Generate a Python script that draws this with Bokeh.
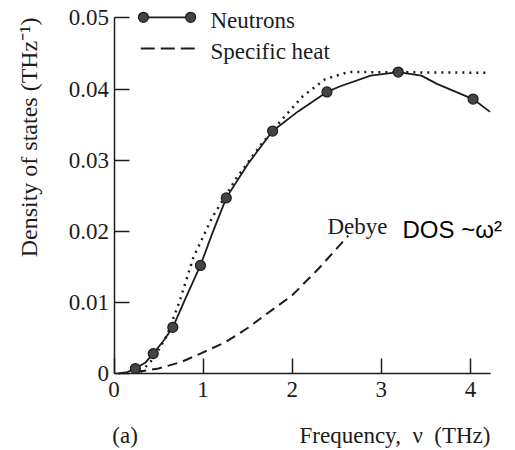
import math
from bokeh.plotting import figure
from bokeh.models import Label, FixedTicker, CustomJSTickFormatter, Range1d
from bokeh.embed import file_html
from bokeh.resources import INLINE

# ---- data ----
neutron_freq = [0.24, 0.44, 0.66, 0.97, 1.26, 1.78, 2.39, 3.19, 4.03]
neutron_dos = [0.0007, 0.0028, 0.0065, 0.0152, 0.0247, 0.0341, 0.0396, 0.0424, 0.0386]

neutron_curve_freq = [0.05, 0.15, 0.24, 0.35, 0.44, 0.55, 0.66, 0.80, 0.97, 1.10, 1.26, 1.51,
                      1.78, 2.07, 2.39, 2.54, 2.88, 3.19, 3.45, 3.63, 4.03, 4.22]
neutron_curve_dos = [0.0, 0.0002, 0.0007, 0.0015, 0.0028, 0.0045, 0.0065, 0.0105, 0.0152, 0.0196,
                     0.0247, 0.0296, 0.0341, 0.0369, 0.0396, 0.0404, 0.0419, 0.0424, 0.0419,
                     0.0407, 0.0386, 0.0368]

specheat_freq = [0.30, 0.45, 0.60, 0.74, 0.89, 1.10, 1.37, 1.65, 1.89, 2.12, 2.37, 2.63, 4.22]
specheat_dos = [0.0002, 0.0022, 0.0055, 0.0103, 0.0163, 0.0219, 0.0274, 0.0322, 0.0358, 0.0390,
                0.0414, 0.0424, 0.0423]

debye_freq = [0.25, 0.50, 0.75, 0.97, 1.25, 1.50, 1.64, 2.00, 2.30, 2.63]
debye_dos = [0.0002, 0.0007, 0.0016, 0.0028, 0.0044, 0.0064, 0.0077, 0.0110, 0.0148, 0.0194]

x_ticks = [0, 1, 2, 3, 4]
y_ticks = [0, 0.01, 0.02, 0.03, 0.04, 0.05]
x_axis_end = 4.22

legend_labels = ["Neutrons", "Specific heat"]
annot_debye = "Debye"
annot_dos = "DOS ~\u03c9\u00b2"
x_title = "Frequency,\u00a0\u00a0\u03bd\u00a0\u00a0(THz)"
y_title = "Density of states (THz\u207b\u00b9)"
panel_tag = "(a)"

# ---- style ----
INK = "#1c1c1c"
SERIF = "Liberation Serif"
SANS = "Liberation Sans"
FS = "23px"

# the frame covers the whole canvas; axes are pinned at the data origin
p = figure(width=515, height=450, output_backend="svg", toolbar_location=None,
           x_range=Range1d(-1.274, 4.506), y_range=Range1d(-0.01083, 0.05246),
           min_border_left=0, min_border_right=0, min_border_top=0, min_border_bottom=0)
p.outline_line_color = None
p.xgrid.visible = False
p.ygrid.visible = False
p.background_fill_color = "white"
p.border_fill_color = "white"

for ax in (p.xaxis[0], p.yaxis[0]):
    ax.fixed_location = 0
    ax.major_tick_in = 15
    ax.major_tick_out = 0
    ax.minor_tick_line_color = None
    ax.major_tick_line_color = INK
    ax.major_tick_line_width = 1.5
    ax.axis_line_color = INK
    ax.axis_line_width = 1.5
    ax.major_label_text_font = SERIF
    ax.major_label_text_font_size = FS
    ax.major_label_text_color = INK

p.xaxis[0].ticker = FixedTicker(ticks=x_ticks)
p.xaxis[0].bounds = (0, x_axis_end)
p.xaxis[0].major_label_standoff = 9
p.yaxis[0].ticker = FixedTicker(ticks=y_ticks)
p.yaxis[0].bounds = (0, y_ticks[-1])
p.yaxis[0].major_label_standoff = 5
p.yaxis[0].formatter = CustomJSTickFormatter(code="return tick == 0 ? '0' : tick.toFixed(2);")

# curves
p.line(debye_freq, debye_dos, line_color=INK, line_width=2, line_dash="10 6")
p.line(specheat_freq, specheat_dos, line_color=INK, line_width=2.5, line_dash="2 5")
p.line(neutron_curve_freq, neutron_curve_dos, line_color=INK, line_width=1.8)
p.scatter(neutron_freq, neutron_dos, size=10, fill_color="#444444", line_color=INK, line_width=1.2)

# legend (drawn by hand, top-left)
lx0, lx1, ltx = 0.33, 0.86, 1.083
ly = [0.0501, 0.0457]
p.line([lx0, lx1], [ly[0], ly[0]], line_color=INK, line_width=1.8)
p.scatter([lx0, lx1], [ly[0], ly[0]], size=10, fill_color="#444444", line_color=INK, line_width=1.2)
p.line([0.30, 0.92], [ly[1], ly[1]], line_color=INK, line_width=2, line_dash="14 6")
for lab, yy in zip(legend_labels, ly):
    p.add_layout(Label(x=ltx, y=yy - 0.0004, text=lab, text_font=SERIF, text_font_size=FS,
                       text_color=INK, text_baseline="middle", text_align="left"))

# annotations
p.add_layout(Label(x=2.733, y=0.0207, text=annot_debye, text_font=SERIF, text_font_size=FS,
                   text_color=INK, text_baseline="middle", text_align="center"))
p.add_layout(Label(x=3.238, y=0.0202, text=annot_dos, text_font=SANS, text_font_size="24px",
                   text_color="black", text_baseline="middle", text_align="left"))
p.add_layout(Label(x=4.225, y=-0.0087, text=x_title, text_font=SERIF, text_font_size=FS,
                   text_color=INK, text_baseline="middle", text_align="right"))
p.add_layout(Label(x=0.124, y=-0.0087, text=panel_tag, text_font=SERIF, text_font_size=FS,
                   text_color=INK, text_baseline="middle", text_align="center"))
p.add_layout(Label(x=-0.95, y=0.0332, text=y_title, text_font=SERIF, text_font_size="24px",
                   text_color=INK, text_baseline="middle", text_align="center",
                   angle=math.pi / 2))

open("out.html", "w").write(file_html(p, INLINE))
